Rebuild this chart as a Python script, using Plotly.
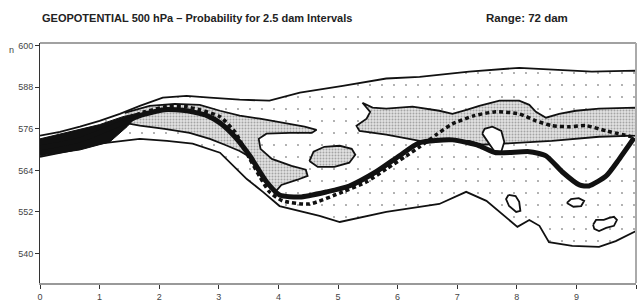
import plotly.graph_objects as go

# ---------------- data (forecast day vs geopotential height, dam) ----------------
x_ticks = [0, 1, 2, 3, 4, 5, 6, 7, 8, 9, 10]
y_ticks = [540, 552, 564, 576, 588, 600]

# outer envelope of the plume
env_upper_x = [0, 0.335, 0.67, 1.0, 1.34, 1.675, 2.06, 2.46, 2.85, 3.35, 3.85, 4.36, 5.08, 5.81, 6.37, 7.2, 8.04, 8.71, 9.26, 10]
env_upper_y = [574.0, 575.1, 576.6, 578.3, 580.3, 582.6, 585.0, 585.5, 585.0, 584.4, 584.1, 586.4, 588.4, 590.5, 591.0, 592.5, 593.6, 593.1, 592.5, 592.8]
env_lower_x = [0, 0.5, 1.0, 1.675, 2.13, 2.56, 3.02, 3.47, 3.74, 4.02, 4.69, 5.03, 5.81, 6.7, 7.15, 7.49, 8.01, 8.21, 8.38, 8.54, 8.93, 9.38, 9.66, 10]
env_lower_y = [567.9, 569.6, 571.7, 573.1, 572.5, 571.7, 569.1, 561.5, 557.8, 553.7, 550.9, 549.1, 552.0, 554.3, 557.8, 555.2, 547.7, 549.7, 548.0, 543.3, 542.2, 541.9, 543.6, 546.5]

# higher-probability (dense stipple) regions
mid1_x = [1.42, 1.84, 2.26, 2.68, 3.02, 3.35, 3.69, 4.07, 4.44, 4.64, 4.56, 4.19, 3.8, 3.67, 3.70, 3.89, 4.22, 4.46, 4.49, 4.32, 4.05, 3.95,
          3.72, 3.52, 3.35, 3.10, 2.85, 2.51, 2.09, 1.675, 1.42]
mid1_y = [580.6, 582.6, 583.2, 582.9, 581.2, 579.8, 578.9, 577.7, 576.6, 575.7, 574.8, 574.8, 574.6, 573.1, 570.2, 567.3, 565.3, 564.2, 562.4, 561.3, 559.8, 557.8,
          562.1, 567.9, 569.6, 571.4, 573.1, 574.8, 576.0, 576.9, 577.7]
mid2_x = [5.41, 5.58, 5.81, 6.25, 6.70, 6.92, 7.17, 7.37, 7.71, 8.04, 8.21, 8.32, 8.49, 8.71, 8.99, 9.38, 10,
          10, 9.38, 8.59, 7.76, 7.42, 7.2, 6.87, 6.37, 5.81, 5.36, 5.31, 5.48, 5.54, 5.41]
mid2_y = [583.5, 582.1, 581.8, 582.4, 581.2, 580.3, 581.5, 582.6, 584.1, 584.1, 582.9, 580.9, 579.2, 580.3, 581.2, 581.8, 582.1,
          574.0, 573.7, 572.5, 571.7, 571.4, 572.5, 572.5, 572.5, 574.3, 575.4, 576.9, 578.9, 580.9, 583.5]
mid3_x = [4.52, 4.59, 4.77, 5.03, 5.23, 5.29, 5.19, 4.94, 4.66, 4.52]
mid3_y = [566.7, 569.4, 570.8, 571.1, 570.2, 568.5, 566.2, 565.0, 565.0, 566.7]

# highest-probability core (black) at short range
core_x = [0, 0.67, 1.0, 1.39, 1.675, 1.46, 1.17, 0.67, 0]
core_y = [573.1, 575.7, 577.2, 579.5, 580.6, 576.6, 572.2, 569.9, 568.2]

# small isolated contours
iso1_x = [7.42, 7.46, 7.59, 7.74, 7.79, 7.74, 7.62, 7.5, 7.42]
iso1_y = [574.6, 576.0, 576.6, 575.4, 572.2, 569.4, 569.6, 572.5, 574.6]
iso2_x = [7.86, 7.98, 8.04, 8.06, 7.99, 7.87, 7.82, 7.86]
iso2_y = [556.9, 556.6, 554.9, 552.3, 552.0, 553.7, 555.7, 556.9]
iso3_x = [8.84, 8.91, 9.04, 9.13, 9.08, 8.95, 8.84]
iso3_y = [554.6, 555.7, 556.0, 555.2, 553.7, 553.5, 554.6]
iso4_x = [9.28, 9.33, 9.46, 9.55, 9.63, 9.68, 9.63, 9.5, 9.38, 9.3, 9.28]
iso4_y = [548.3, 549.7, 549.7, 550.3, 550.6, 549.7, 548.0, 547.4, 546.5, 547.1, 548.3]

# deterministic forecast (thick) and control forecast (dashed)
main_x = [0, 0.67, 1.34, 1.675, 2.09, 2.46, 2.80, 3.02, 3.27, 3.52, 3.80, 4.02, 4.36, 4.81, 5.19, 5.64, 6.03, 6.37, 6.92, 7.37, 7.65, 8.21, 8.49, 8.76, 9.05, 9.21, 9.5, 9.72, 9.97]
main_y = [570.5, 572.8, 577.4, 579.8, 581.5, 581.2, 579.8, 577.7, 573.7, 568.2, 560.7, 556.9, 556.3, 557.8, 559.5, 563.6, 568.2, 572.0, 572.8, 571.1, 569.1, 569.4, 568.2, 563.6, 559.8, 559.5, 562.4, 567.3, 573.4]
ctrl_x = [1.39, 1.76, 2.13, 2.43, 2.68, 3.02, 3.27, 3.52, 3.69, 3.85, 4.07, 4.52, 5.08, 5.48, 5.81, 6.15, 6.37, 6.65, 6.92, 7.29, 7.65, 8.04, 8.32, 8.59, 8.88, 9.16, 9.5, 9.93]
ctrl_y = [578.6, 580.9, 582.4, 582.4, 581.5, 579.5, 575.1, 567.3, 562.1, 557.8, 555.2, 554.3, 557.8, 560.7, 564.4, 568.2, 570.8, 574.3, 577.4, 579.8, 580.9, 580.3, 578.3, 576.9, 576.6, 576.9, 575.4, 573.7]

title_text = "GEOPOTENTIAL 500 hPa \u2013 Probability for 2.5 dam Intervals"
range_text = "Range: 72 dam"

# ---------------- figure ----------------
INK = "#111111"
FONT = "Liberation Sans, Arial, sans-serif"

sparse = dict(shape=".", size=12, solidity=0.018, fgcolor="#222222", bgcolor="white")
dense = dict(shape=".", size=3, solidity=0.33, fgcolor="#666666", bgcolor="#e2e2e2")

fig = go.Figure()

def poly(xs, ys, pattern=None, fillcolor=None, width=1.8):
    kw = dict(x=xs, y=ys, mode="lines", fill="toself",
              line=dict(color=INK, width=width), hoverinfo="skip", showlegend=False)
    if pattern is not None:
        kw["fillpattern"] = pattern
        kw["fillcolor"] = "rgba(0,0,0,0)"
    else:
        kw["fillcolor"] = fillcolor
    fig.add_trace(go.Scatter(**kw))

poly(env_upper_x + env_lower_x[::-1], env_upper_y + env_lower_y[::-1], pattern=sparse)
poly(mid1_x, mid1_y, pattern=dense)
poly(mid2_x, mid2_y, pattern=dense)
poly(mid3_x, mid3_y, pattern=dense)
poly(core_x, core_y, fillcolor=INK, width=1)
poly(iso1_x, iso1_y, fillcolor="white")
poly(iso2_x, iso2_y, fillcolor="white")
poly(iso3_x, iso3_y, fillcolor="white")
poly(iso4_x, iso4_y, fillcolor="white")

fig.add_trace(go.Scatter(x=main_x, y=main_y, mode="lines", line=dict(color=INK, width=5, shape="spline", smoothing=0.6),
                         hoverinfo="skip", showlegend=False))
fig.add_trace(go.Scatter(x=ctrl_x, y=ctrl_y, mode="lines", line=dict(color=INK, width=3.5, dash="4px,3px", shape="spline", smoothing=0.6),
                         hoverinfo="skip", showlegend=False))

fig.update_layout(
    width=638, height=300,
    margin=dict(l=40, r=2, t=43, b=17, autoexpand=False),
    paper_bgcolor="white", plot_bgcolor="white",
    font=dict(family=FONT, size=9, color="#444444"),
    xaxis=dict(range=[0, 10], tickvals=x_ticks, ticks="outside", ticklen=4, tickcolor="#333", automargin=False,
               showgrid=False, zeroline=False, showline=True, linecolor="#999999", linewidth=2,
               tickfont=dict(size=9, color="#444")),
    yaxis=dict(range=[531.5, 600.75], tickvals=y_ticks, ticks="outside", ticklen=4, tickcolor="#333", automargin=False,
               showgrid=False, zeroline=False, showline=True, linecolor="#333333", linewidth=1,
               tickfont=dict(size=9, color="#444")),
    shapes=[
        dict(type="line", xref="paper", yref="paper", x0=0, x1=1, y0=1, y1=1, line=dict(color="#444", width=1.2)),
        dict(type="line", xref="paper", yref="paper", x0=1, x1=1, y0=0, y1=1, line=dict(color="#aaa", width=2)),
    ],
    annotations=[
        dict(text="<b>%s</b>" % title_text, xref="paper", yref="paper", x=0, y=1.105, xanchor="left", yanchor="middle",
             showarrow=False, font=dict(size=11, color="#222", family=FONT)),
        dict(text="<b>%s</b>" % range_text, xref="paper", yref="paper", x=0.7455, y=1.105, xanchor="left", yanchor="middle",
             showarrow=False, font=dict(size=11.5, color="#222", family=FONT)),
        dict(text="n", xref="paper", yref="paper", x=-0.048, y=0.972, xanchor="center", yanchor="middle",
             showarrow=False, font=dict(size=9, color="#444", family=FONT)),
    ],
)

fig.write_html("out.html", config={"displayModeBar": False, "staticPlot": True},
               post_script="document.body.style.margin='0px';")
